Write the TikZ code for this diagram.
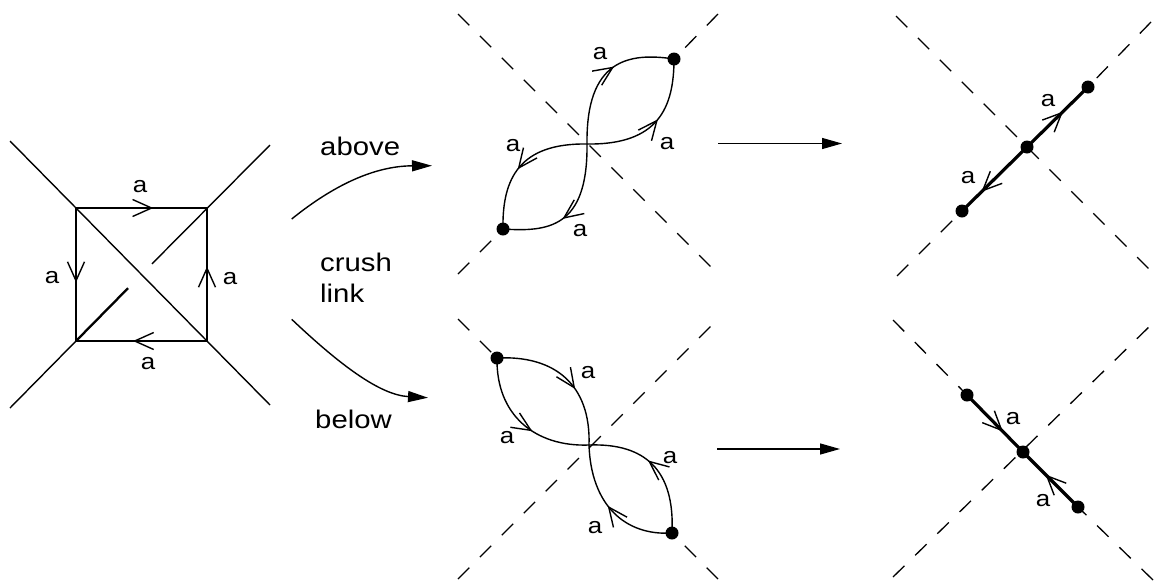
\documentclass[tikz,border=0pt]{standalone}
\usepackage{fontspec}
\setmainfont{Liberation Sans}[FakeStretch=1.15]
\usetikzlibrary{arrows.meta,decorations.markings,calc}
\tikzset{
  chev/.tip={Straight Barb[length=19pt,width=17pt]},
  ln/.style={line width=1.4pt},
  thk/.style={line width=3.2pt},
  fw/.style={postaction={decorate},decoration={markings,mark=at position #1 with {\arrow[line width=1.4pt]{chev}}}},
  bw/.style={postaction={decorate},decoration={markings,mark=at position #1 with {\arrowreversed[line width=1.4pt]{chev}}}},
  dsh/.style={line width=1.3pt,dash pattern=on 16pt off 15pt},
  blob/.style={circle,fill,inner sep=0pt,minimum size=13pt},
  lab/.style={inner sep=0pt,anchor=base,font=\fontsize{22.5}{27}\selectfont},
  word/.style={inner sep=0pt,anchor=base west,font=\fontsize{25.5}{31}\selectfont},
  tri/.style={-{Triangle[length=20pt,width=11pt]}}
}
\begin{document}
\begin{tikzpicture}[x=1pt,y=-1pt]
\useasboundingbox (0,0) rectangle (1154,582);

% ---------- left panel ----------
\coordinate (TL) at (76,208);
\coordinate (TR) at (207,208);
\coordinate (BL) at (76,341);
\coordinate (BR) at (207,341);
\coordinate (e1) at (10,141);
\coordinate (e2) at (270,405);
\coordinate (e3) at (270,145);
\coordinate (e4) at (10,408);
\draw[ln] (e1) -- (e2);
\draw[ln] (e3) -- ($(TR)!0.42!(BL)$);
\draw[line width=2.3pt] ($(TR)!0.603!(BL)$) -- (BL);
\draw[ln] (BL) -- (e4);
\draw[ln,fw=0.59] (TL) -- (TR);
\draw[ln,fw=0.56] (TL) -- (BL);
\draw[ln,fw=0.56] (BR) -- (TR);
\draw[ln,fw=0.565] (BR) -- (BL);
\node[lab] (la1) at (140,192) {a};
\node[lab] (la2) at (52,283) {a};
\node[lab] (la3) at (230,284) {a};
\node[lab] (la4) at (148,369) {a};

% ---------- middle arrows and words ----------
\coordinate (ua0) at (291.7,219);
\coordinate (ua1) at (432,165.7);
\draw[ln,tri] (ua0) .. controls (340,180) and (380,166) .. (ua1);
\coordinate (da0) at (291.7,319.3);
\coordinate (da1) at (428,397.7);
\draw[ln,tri] (da0) .. controls (340,365) and (380,395) .. (da1);
\node[word] (wabove) at (320,155) {above};
\node[word] (wcrush) at (320,271) {crush};
\node[word] (wlink) at (320,302) {link};
\node[word] (wbelow) at (315,428) {below};

% ---------- top middle panel ----------
\coordinate (c1) at (587,144);
\coordinate (d1) at (674,59);
\coordinate (d2) at (503,229);
\coordinate (m1a) at (458,14);  \coordinate (m1b) at (718,274);
\coordinate (m1c) at (458,274); \coordinate (m1d) at (718,14);
\draw[dsh] (m1a) -- (m1b);
\draw[dsh] (m1c) -- (d2);
\draw[dsh] (m1d) -- (d1);
\draw[ln,fw=0.58] (c1) .. controls (586,60) and (628,52) .. (d1);
\draw[ln,fw=0.55] (c1) .. controls (658,145) and (674,108) .. (d1);
\draw[ln,fw=0.55] (c1) .. controls (520,143) and (502,178) .. (d2);
\draw[ln,fw=0.57] (c1) .. controls (588,228) and (548,232) .. (d2);
\node[blob] (D1) at (d1) {};
\node[blob] (D2) at (d2) {};
\node[lab] (ma1) at (600,59) {a};
\node[lab] (ma2) at (667,149) {a};
\node[lab] (ma3) at (513,151) {a};
\node[lab] (ma4) at (580,236) {a};

% ---------- bottom middle panel ----------
\coordinate (c2) at (589,445);
\coordinate (d3) at (497,358);
\coordinate (d4) at (672,533);
\coordinate (m2a) at (458,319); \coordinate (m2b) at (718,579);
\coordinate (m2c) at (458,579); \coordinate (m2d) at (718,319);
\draw[dsh] (m2a) -- (d3);
\draw[dsh] (m2b) -- (d4);
\draw[dsh] (m2c) -- (m2d);
\draw[ln,fw=0.6] (d3) .. controls (555,355) and (591,385) .. (c2);
\draw[ln,fw=0.59] (d3) .. controls (496,415) and (535,447) .. (c2);
\draw[ln,bw=0.44] (c2) .. controls (645,443) and (675,470) .. (d4);
\draw[ln,bw=0.47] (c2) .. controls (591,505) and (625,536) .. (d4);
\node[blob] (D3) at (d3) {};
\node[blob] (D4) at (d4) {};
\node[lab] (mb1) at (588,378) {a};
\node[lab] (mb2) at (507,443) {a};
\node[lab] (mb3) at (670,463) {a};
\node[lab] (mb4) at (595,533) {a};

% ---------- horizontal arrows ----------
\coordinate (h1a) at (718,143.5); \coordinate (h1b) at (842,143.5);
\coordinate (h2a) at (717,449);   \coordinate (h2b) at (840,449);
\draw[ln,tri] (h1a) -- (h1b);
\draw[ln,tri] (h2a) -- (h2b);

% ---------- top right panel ----------
\coordinate (p1) at (962,211);
\coordinate (pc) at (1027,147);
\coordinate (p2) at (1088,87);
\coordinate (r1a) at (896,16);  \coordinate (r1b) at (1150,270);
\coordinate (r1c) at (897,276); \coordinate (r1d) at (1151,22);
\draw[dsh] (r1a) -- (r1b);
\draw[dsh] (r1c) -- (p1);
\draw[dsh] (r1d) -- (p2);
\draw[thk,fw=0.59] (pc) -- (p2);
\draw[thk,fw=0.70] (pc) -- (p1);
\node[blob] (P1) at (p1) {};
\node[blob] (PC) at (pc) {};
\node[blob] (P2) at (p2) {};
\node[lab] (ra1) at (1048,106) {a};
\node[lab] (ra2) at (968,183) {a};

% ---------- bottom right panel ----------
\coordinate (s1) at (967,395);
\coordinate (sc) at (1023,452);
\coordinate (s2) at (1078,507);
\coordinate (r2a) at (893,320); \coordinate (r2b) at (1153,580);
\coordinate (r2c) at (893,577); \coordinate (r2d) at (1153,323);
\draw[dsh] (r2a) -- (s1);
\draw[dsh] (r2b) -- (s2);
\draw[dsh] (r2c) -- (r2d);
\draw[thk,fw=0.64] (s1) -- (sc);
\draw[thk,fw=0.59] (s2) -- (sc);
\node[blob] (S1) at (s1) {};
\node[blob] (SC) at (sc) {};
\node[blob] (S2) at (s2) {};
\node[lab] (rb1) at (1013,424) {a};
\node[lab] (rb2) at (1043,506) {a};
\end{tikzpicture}
\end{document}
